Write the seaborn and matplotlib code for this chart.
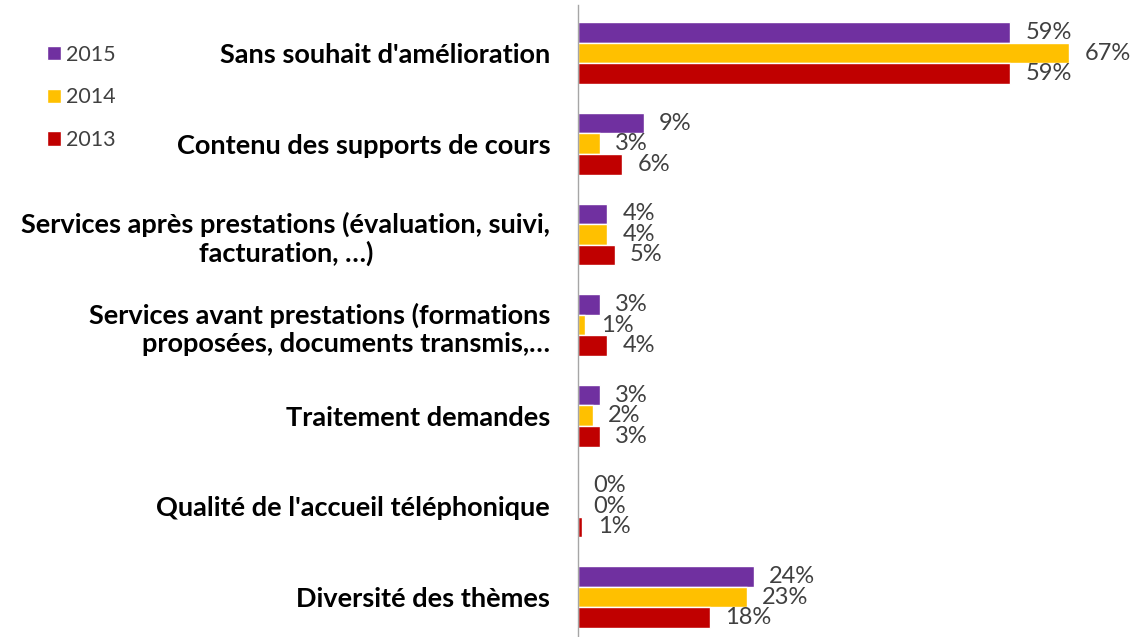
import matplotlib
matplotlib.use("Agg")
import matplotlib.pyplot as plt
import seaborn as sns
import pandas as pd
from matplotlib.patches import Patch

categories = [
    "Sans souhait d'amélioration",
    "Contenu des supports de cours",
    "Services après prestations (évaluation, suivi,\nfacturation, …)",
    "Services avant prestations (formations\nproposées, documents transmis,…",
    "Traitement demandes",
    "Qualité de l'accueil téléphonique",
    "Diversité des thèmes",
]
years = ["2015", "2014", "2013"]
values_2015 = [59, 9, 4, 3, 3, 0, 24]
values_2014 = [67, 3, 4, 1, 2, 0, 23]
values_2013 = [59, 6, 5, 4, 3, 0.6, 18]
colors = ["#7030A0", "#FFC000", "#C00000"]

rows = []
for year, vals in zip(years, [values_2015, values_2014, values_2013]):
    for cat, v in zip(categories, vals):
        rows.append({"categorie": cat, "annee": year, "valeur": v})
df = pd.DataFrame(rows)

sns.set_style("white")
plt.rcParams["font.family"] = ["Lato", "DejaVu Sans"]

fig = plt.figure(figsize=(11.35, 6.37), dpi=100)
ax = fig.add_axes([578 / 1135, 0.0, 557 / 1135, 632 / 637])

sns.barplot(data=df, y="categorie", x="valeur", hue="annee", hue_order=years,
            order=categories, palette=colors, orient="h", width=0.68, gap=0,
            saturation=1, ax=ax, legend=False)

for container in ax.containers:
    ax.bar_label(container, labels=[f"{round(b.get_width())}%" for b in container],
                 padding=11, fontsize=17, color="#404040")

ax.set_xlim(0, 76.0)
ax.set_ylim(6.44, -0.53)
ax.set_xlabel("")
ax.set_ylabel("")
ax.set_xticks([])
ax.tick_params(axis="y", length=0, pad=20)
for lbl in ax.get_yticklabels():
    lbl.set_fontweight("bold")
    lbl.set_fontsize(19.5)
    lbl.set_color("black")
    if "formations" in lbl.get_text():
        lbl.set_multialignment("right")
    else:
        lbl.set_multialignment("center")

for side in ["top", "right", "bottom"]:
    ax.spines[side].set_visible(False)
ax.spines["left"].set_color("#A6A6A6")
ax.spines["left"].set_linewidth(1)

handles = [Patch(facecolor=c, label=y) for c, y in zip(colors, years)]
fig.legend(handles=handles, loc="upper left", bbox_to_anchor=(0.024, 0.96),
           frameon=False, fontsize=15.5, handlelength=0.65, handleheight=0.65,
           handletextpad=0.25, labelspacing=1.05, labelcolor="#404040")

fig.savefig("out.png", dpi=100)
